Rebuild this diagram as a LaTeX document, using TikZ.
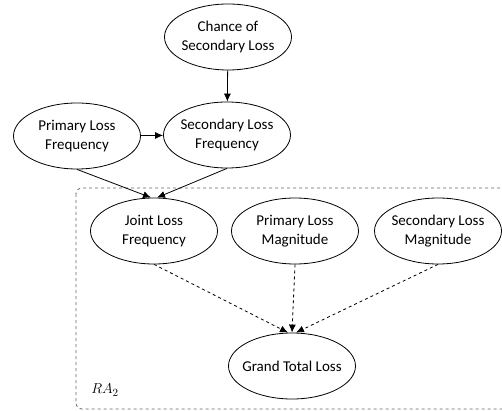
\documentclass[tikz,border=0pt]{standalone}
\usepackage{fontspec}
\setmainfont{Carlito}
\usetikzlibrary{arrows.meta, positioning, shapes.geometric}
\tikzset{
  factor/.style={ellipse,draw,align=center,inner xsep=-12pt,inner ysep=0pt,minimum width=127pt,minimum height=66pt,font=\fontsize{15}{19}\selectfont},
  line/.style={-{Latex[length=8pt,width=7pt]}},
  dline/.style={line,dashed}
}

\begin{document}
\begin{tikzpicture}[x=1pt,y=-1pt,line width=0.8pt]
\useasboundingbox (0,0) rectangle (502,411);
\draw[dashed,gray!80!black,rounded corners=6pt] (76,188) rectangle (530,409);
\node[factor] (chance) at (228,37) {Chance of\\Secondary Loss};
\node[factor] (slf) at (227,135) {Secondary Loss\\Frequency};
\node[factor] (plf) at (77,136) {Primary Loss\\Frequency};
\node[factor] (jlf) at (154,231) {Joint Loss\\Frequency};
\node[factor] (plm) at (295,231) {Primary Loss\\Magnitude};
\node[factor] (slm) at (438,231) {Secondary Loss\\Magnitude};
\node[factor] (gtl) at (292,366) {Grand Total Loss};
\node[font=\fontsize{15}{18}\selectfont] (ra) at (105,390) {$RA_2$};
\draw[line] (chance) -- (slf);
\draw[line] (plf) -- (slf);
\draw[line] (plf.south) -- ([xshift=-3pt]jlf.north);
\draw[line] (slf.south) -- ([xshift=3pt]jlf.north);
\draw[dline] (jlf.south) -- ([xshift=-4pt]gtl.north);
\draw[dline] (plm.south) -- (gtl.north);
\draw[dline] (slm.south) -- ([xshift=4pt]gtl.north);
\end{tikzpicture}
\end{document}
